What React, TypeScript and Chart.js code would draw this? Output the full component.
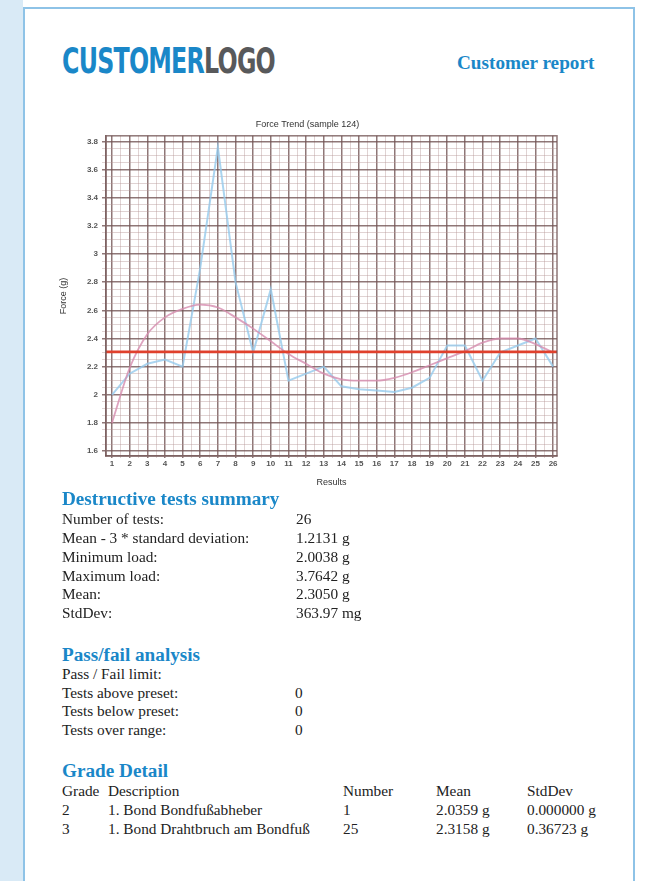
import React, { useEffect, useRef } from "react";
import { Chart, registerables } from "chart.js";

Chart.register(...registerables);

// ---- data ----
const testNumbers = [1, 2, 3, 4, 5, 6, 7, 8, 9, 10, 11, 12, 13, 14, 15, 16, 17, 18, 19, 20, 21, 22, 23, 24, 25, 26];
const forceValues = [2.0, 2.15, 2.22, 2.25, 2.2, 2.9, 3.76, 2.8, 2.3, 2.75, 2.1, 2.15, 2.2, 2.06, 2.04, 2.03, 2.02, 2.05, 2.12, 2.35, 2.35, 2.1, 2.3, 2.35, 2.4, 2.2];
const trendValues = [1.8, 2.19, 2.43, 2.55, 2.61, 2.64, 2.62, 2.55, 2.47, 2.38, 2.29, 2.22, 2.15, 2.11, 2.1, 2.1, 2.12, 2.16, 2.21, 2.26, 2.31, 2.37, 2.4, 2.4, 2.36, 2.3];
const meanForce = 2.305;
const yTickValues = [1.6, 1.8, 2.0, 2.2, 2.4, 2.6, 2.8, 3.0, 3.2, 3.4, 3.6, 3.8];
const yTickLabels = ["1.6", "1.8", "2", "2.2", "2.4", "2.6", "2.8", "3", "3.2", "3.4", "3.6", "3.8"];

const summaryLabels = ["Number of tests:", "Mean - 3 * standard deviation:", "Minimum load:", "Maximum load:", "Mean:", "StdDev:"];
const summaryValues = ["26", "1.2131 g", "2.0038 g", "3.7642 g", "2.3050 g", "363.97 mg"];
const passLabels = ["Pass / Fail limit:", "Tests above preset:", "Tests below preset:", "Tests over range:"];
const passValues = ["", "0", "0", "0"];
const gradeHeader = ["Grade", "Description", "Number", "Mean", "StdDev"];
const gradeRows = [
  ["2", "1. Bond Bondfußabheber", "1", "2.0359 g", "0.000000 g"],
  ["3", "1. Bond Drahtbruch am Bondfuß", "25", "2.3158 g", "0.36723 g"],
];

const BLUE = "#1a87c8";
const SERIF = "'Liberation Serif', 'Times New Roman', serif";
const SANS = "'Liberation Sans', Arial, sans-serif";
const MAJOR = "rgba(115, 85, 85, 0.8)";
const MINOR = "rgba(180, 150, 150, 0.42)";

const approx = (a: number, b: number) => Math.abs(a - b) < 1e-6;

function ForceChart() {
  const ref = useRef<HTMLCanvasElement | null>(null);
  useEffect(() => {
    if (!ref.current) return;
    const xMajor = testNumbers;
    const xAll: number[] = [];
    xMajor.forEach((v, i) => {
      xAll.push(v);
      if (i < xMajor.length - 1) xAll.push((v + xMajor[i + 1]) / 2);
    });
    const yAll: number[] = [];
    yTickValues.forEach((v, i) => {
      yAll.push(v);
      if (i < yTickValues.length - 1) {
        const n = yTickValues[i + 1];
        const d = (n - v) / 4;
        yAll.push(v + d, v + 2 * d, v + 3 * d);
      }
    });
    const isMajorX = (v: number) => xMajor.some((m) => approx(m, v));
    const isMajorY = (v: number) => yTickValues.some((m) => approx(m, v));

    const framePlugin = {
      id: "frame",
      afterDatasetsDraw(chart: any) {
        const { ctx, chartArea, scales } = chart;
        const y = scales.y.getPixelForValue(meanForce);
        ctx.save();
        ctx.strokeStyle = "#e0402c";
        ctx.lineWidth = 2.6;
        ctx.beginPath();
        ctx.moveTo(chartArea.left, y);
        ctx.lineTo(chartArea.right, y);
        ctx.stroke();
        ctx.strokeStyle = MAJOR;
        ctx.lineWidth = 1.5;
        ctx.strokeRect(chartArea.left, chartArea.top, chartArea.right - chartArea.left, chartArea.bottom - chartArea.top);
        ctx.restore();
      },
    };

    const chart = new Chart(ref.current, {
      type: "line",
      data: {
        datasets: [
          {
            label: "Trend",
            data: testNumbers.map((x, i) => ({ x, y: trendValues[i] })),
            borderColor: "rgba(214, 140, 175, 0.8)",
            borderWidth: 1.8,
            pointRadius: 0,
            tension: 0.4,
            cubicInterpolationMode: "monotone",
          },
          {
            label: "Force",
            data: testNumbers.map((x, i) => ({ x, y: forceValues[i] })),
            borderColor: "rgba(150, 202, 236, 0.8)",
            borderWidth: 2,
            pointRadius: 0,
            tension: 0,
          },
        ],
      },
      options: {
        animation: false,
        responsive: false,
        maintainAspectRatio: false,
        devicePixelRatio: 1,
        layout: { padding: { left: 8, right: 15, top: 1, bottom: 4 } },
        plugins: {
          legend: { display: false },
          tooltip: { enabled: false },
          title: {
            display: true,
            text: "Force Trend (sample 124)",
            color: "#333",
            font: { family: SANS, size: 9, weight: "normal" },
            padding: { top: 10, bottom: 6 },
          },
        },
        scales: {
          x: {
            type: "linear",
            min: 0.66,
            max: 26.22,
            afterBuildTicks: (s: any) => {
              s.ticks = xAll.map((v) => ({ value: v }));
            },
            afterFit: (s: any) => {
              s.height = 32;
            },
            grid: {
              color: (c: any) => (c.tick && isMajorX(c.tick.value) ? MAJOR : MINOR),
              lineWidth: (c: any) => (c.tick && isMajorX(c.tick.value) ? 1.5 : 1),
              tickLength: 2,
            },
            border: { display: true, color: MAJOR, width: 1.5 },
            ticks: {
              autoSkip: false,
              maxRotation: 0,
              padding: 1,
              color: "#555",
              font: { family: SANS, size: 8, weight: "bold" },
              callback: (v: any) => (isMajorX(Number(v)) ? String(Math.round(Number(v))) : ""),
            },
            title: {
              display: true,
              text: "Results",
              color: "#333",
              font: { family: SANS, size: 9 },
              padding: { top: 2, bottom: 0 },
            },
          },
          y: {
            type: "linear",
            min: 1.565,
            max: 3.84,
            afterBuildTicks: (s: any) => {
              s.ticks = yAll.map((v) => ({ value: v }));
            },
            afterFit: (s: any) => {
              s.width = 48;
            },
            grid: {
              color: (c: any) => (c.tick && isMajorY(c.tick.value) ? MAJOR : MINOR),
              lineWidth: (c: any) => (c.tick && isMajorY(c.tick.value) ? 1.5 : 1),
              tickLength: 4,
            },
            border: { display: true, color: MAJOR, width: 1.5 },
            ticks: {
              autoSkip: false,
              padding: 4,
              color: "#555",
              font: { family: SANS, size: 8, weight: "bold" },
              callback: (v: any) => {
                const idx = yTickValues.findIndex((m) => approx(m, Number(v)));
                return idx >= 0 ? yTickLabels[idx] : "";
              },
            },
            title: {
              display: true,
              text: "Force (g)",
              color: "#333",
              font: { family: SANS, size: 9 },
              padding: { top: 0, bottom: 4 },
            },
          },
        },
      },
      plugins: [framePlugin],
    } as any);
    return () => chart.destroy();
  }, []);
  return <canvas ref={ref} width={522} height={384} style={{ width: 522, height: 384, display: "block" }} />;
}

function Logo() {
  const ref = useRef<HTMLSpanElement | null>(null);
  useEffect(() => {
    const el = ref.current;
    if (!el) return;
    el.style.transform = "none";
    const w = el.getBoundingClientRect().width;
    if (w > 0) el.style.transform = `scaleX(${213 / w})`;
  }, []);
  return (
    <span
      ref={ref}
      style={{
        position: "absolute",
        left: 62,
        top: 41,
        fontFamily: "'DejaVu Sans Condensed', 'DejaVu Sans', sans-serif",
        fontWeight: 900,
        fontSize: 35,
        lineHeight: "40px",
        letterSpacing: -1,
        transformOrigin: "0 0",
        whiteSpace: "nowrap",
        display: "inline-block",
      }}
    >
      <span style={{ color: BLUE }}>CUSTOMER</span>
      <span style={{ color: "#58595b" }}>LOGO</span>
    </span>
  );
}

const txt = (top: number, left: number, s: string, extra: any = {}) => (
  <div
    key={`${top}-${left}-${s}`}
    style={{
      position: "absolute",
      top,
      left,
      fontFamily: SERIF,
      fontSize: 15.3,
      lineHeight: "18px",
      color: "#222",
      whiteSpace: "nowrap",
      ...extra,
    }}
  >
    {s}
  </div>
);

const heading = (top: number, s: string) =>
  txt(top, 62, s, { fontSize: 19.2, fontWeight: "bold", color: BLUE, lineHeight: "22px" });

export default function App() {
  const summaryRowY = [519, 538, 557, 576, 594, 613];
  const passRowY = [674, 693, 711, 730];
  const gradeRowY = [791, 810, 829];
  const gradeColX = [62, 108, 343, 436, 527];
  return (
    <div style={{ position: "absolute", left: 0, top: 0, width: 645, height: 881, background: "#fff", overflow: "hidden" }}>
      <div style={{ position: "absolute", left: 0, top: 0, width: 23, height: 881, background: "#d9eaf6" }} />
      <div
        style={{
          position: "absolute",
          left: 23,
          top: 7,
          width: 612,
          height: 900,
          border: "2px solid #8ec3e7",
          boxSizing: "border-box",
          background: "#fff",
        }}
      />
      <Logo />
      {txt(52, 457, "Customer report", { fontSize: 19.2, fontWeight: "bold", color: BLUE, lineHeight: "22px" })}
      <div style={{ position: "absolute", left: 50, top: 108 }}>
        <ForceChart />
      </div>
      {heading(488, "Destructive tests summary")}
      {summaryLabels.map((s, i) => txt(summaryRowY[i] - 9, 62, s))}
      {summaryValues.map((s, i) => txt(summaryRowY[i] - 9, 296, s))}
      {heading(644, "Pass/fail analysis")}
      {passLabels.map((s, i) => txt(passRowY[i] - 9, 62, s))}
      {passValues.map((s, i) => txt(passRowY[i] - 9, 295, s))}
      {heading(760, "Grade Detail")}
      {gradeHeader.map((s, j) => txt(gradeRowY[0] - 9, gradeColX[j], s))}
      {gradeRows.map((row, i) => row.map((s, j) => txt(gradeRowY[i + 1] - 9, gradeColX[j], s)))}
    </div>
  );
}
